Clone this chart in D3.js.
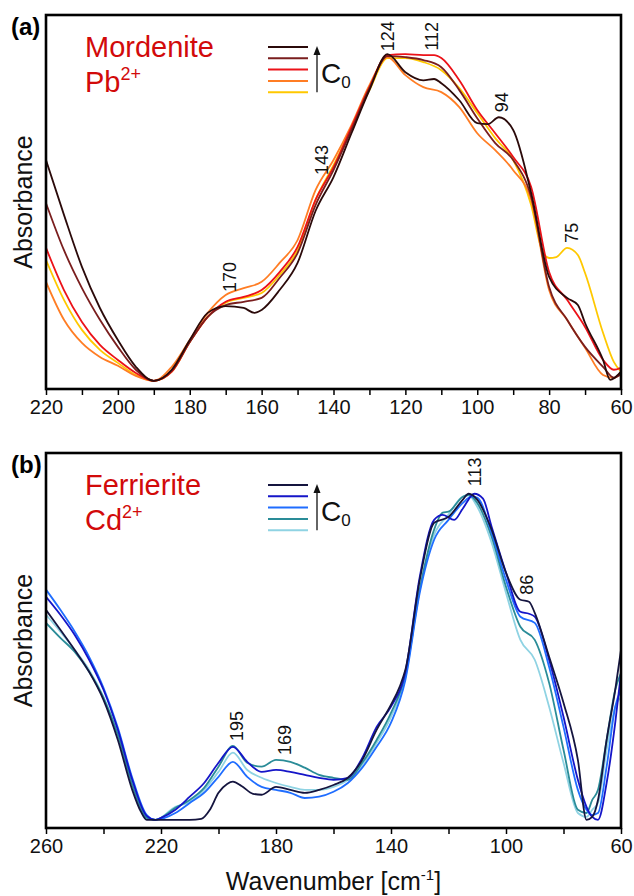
<!DOCTYPE html>
<html>
<head>
<meta charset="utf-8">
<script src="https://cdn.jsdelivr.net/npm/d3@7"></script>
<style>
  body { margin: 0; background: #fff; }
  svg { display: block; }
</style>
</head>
<body>
<div id="chart"></div>
<script>
// ---- data (wavenumber cm-1, absorbance a.u.) ----

// (a) Mordenite / Pb2+, darkest = highest C0
const mordColors = ["#2b0a0a", "#7a1e1e", "#ec1218", "#ff7d24", "#ffc800"];
const mordDarkest = [[220,.676],[215,.508],[210,.349],[205,.223],[200,.125],[195,.043],[190,0],[185,.034],[180,.125],[175,.208],[170,.229],[165,.223],[162,.208],[160,.217],[155,.278],[150,.361],[145,.52],[140,.624],[135,.758],[130,.89],[125,1],[120,.945],[115,.92],[112,.924],[110,.911],[105,.859],[100,.789],[97,.786],[94,.807],[90,.768],[85,.575],[80,.318],[75,.254],[72,.232],[70,.177],[65,.064],[63,.003],[60,.028]];
const mordDarkRed = [[220,.544],[215,.40],[210,.284],[205,.187],[200,.104],[195,.034],[190,0],[185,.031],[180,.119],[175,.196],[170,.232],[165,.242],[160,.254],[155,.315],[150,.391],[145,.538],[140,.645],[135,.768],[130,.896],[125,.994],[120,.991],[115,.982],[110,.96],[105,.89],[100,.804],[95,.728],[90,.676],[85,.563],[80,.287],[75,.187],[70,.104],[65,.043],[62,.01],[60,.02]];
const mordRed = [[220,.407],[215,.278],[210,.18],[205,.11],[200,.064],[195,.024],[190,0],[185,.028],[180,.119],[175,.196],[170,.242],[165,.257],[160,.278],[155,.333],[150,.41],[145,.554],[140,.654],[135,.777],[130,.899],[125,.997],[120,1],[115,.997],[112,.997],[110,.988],[105,.92],[100,.829],[95,.758],[90,.685],[85,.593],[80,.333],[75,.248],[70,.165],[65,.064],[62,.034],[60,.04]];
const mordOrange = [[220,.303],[215,.187],[210,.116],[205,.073],[200,.046],[195,.015],[190,0],[185,.043],[180,.125],[175,.208],[170,.263],[165,.284],[160,.303],[155,.361],[150,.431],[145,.584],[140,.676],[135,.783],[130,.905],[125,.991],[120,.936],[115,.899],[110,.884],[105,.838],[100,.758],[95,.706],[90,.645],[85,.554],[80,.278],[75,.187],[70,.101],[65,.018],[62,.009],[60,.028]];
const mordYellow = [[220,.37],[215,.248],[210,.156],[205,.095],[200,.055],[195,.018],[190,0],[185,.028],[180,.119],[175,.196],[170,.239],[165,.254],[160,.269],[155,.324],[150,.40],[145,.554],[140,.66],[135,.774],[130,.89],[125,.988],[120,.988],[115,.976],[110,.951],[105,.896],[100,.82],[95,.743],[90,.676],[85,.538],[82,.40],[80,.376],[78,.379],[75,.407],[72,.385],[70,.33],[65,.147],[62,.058],[60,.028]];
const mordSeries = [mordDarkest, mordDarkRed, mordRed, mordOrange, mordYellow];
const mordTicks = d3.range(220, 59, -10);
const mordPeaks = [["124",124.8,1.055],["112",112.6,1.055],["94",93.1,.853],["143",143.2,.676],["170",168.8,.318],["75",73.6,.453]];

// (b) Ferrierite / Cd2+
const ferrColors = ["#15153f", "#1515c8", "#1f6dff", "#2a8c98", "#8fd3e3"];
const ferrNavy = [[260,.644],[255,.583],[250,.521],[245,.454],[240,.368],[235,.245],[230,.092],[227,.025],[225,0],[220,0],[215,0],[210,0],[206,.003],[203,.031],[200,.083],[197,.11],[195,.117],[192,.104],[188,.08],[185,.077],[180,.101],[175,.092],[170,.083],[165,.092],[160,.107],[155,.129],[150,.184],[145,.276],[140,.353],[137,.408],[135,.46],[130,.736],[125,.911],[120,.929],[115,.982],[113,1],[110,.982],[105,.89],[100,.758],[95,.675],[92,.669],[90,.635],[85,.5],[80,.359],[75,.184],[72,0],[70,.009],[68,.061],[65,.245],[62,.399],[60,.521]];
const ferrBlue = [[260,.684],[255,.629],[250,.567],[245,.491],[240,.399],[235,.276],[230,.123],[225,.012],[222,0],[220,.006],[215,.031],[210,.071],[205,.113],[200,.175],[195,.224],[190,.178],[185,.147],[180,.153],[175,.147],[170,.138],[165,.129],[160,.123],[155,.129],[150,.19],[145,.285],[140,.347],[135,.454],[130,.745],[125,.92],[122,.935],[118,.92],[115,.955],[111,1],[108,.985],[105,.899],[100,.758],[95,.638],[92,.632],[90,.623],[85,.491],[80,.316],[75,.123],[72,.04],[70,.009],[68,0],[65,.113],[62,.298],[60,.451]];
const ferrBright = [[260,.706],[255,.644],[250,.577],[245,.5],[240,.405],[235,.282],[230,.129],[225,.015],[222,0],[215,.021],[210,.052],[205,.083],[200,.132],[195,.178],[190,.132],[185,.101],[180,.092],[175,.083],[170,.067],[165,.071],[160,.086],[155,.113],[150,.16],[145,.224],[140,.298],[135,.429],[130,.696],[125,.859],[120,.92],[115,.972],[112,.991],[110,.988],[105,.88],[100,.736],[95,.623],[90,.604],[85,.469],[80,.285],[75,.092],[72,.031],[70,.015],[68,.021],[65,.163],[62,.347],[60,.399]];
const ferrTeal = [[260,.604],[255,.558],[250,.515],[245,.454],[240,.374],[235,.261],[230,.107],[225,.006],[222,0],[215,.037],[210,.061],[205,.098],[200,.163],[195,.227],[190,.175],[185,.163],[180,.184],[175,.178],[170,.16],[165,.138],[160,.129],[155,.123],[150,.175],[145,.245],[140,.328],[135,.445],[130,.706],[125,.89],[122,.942],[120,.945],[115,.991],[113,.997],[110,.972],[105,.868],[100,.715],[95,.592],[90,.552],[85,.42],[80,.215],[75,.031],[72,.021],[70,.061],[68,.092],[65,.245],[62,.399],[60,.451]];
const ferrLight = [[260,.629],[255,.577],[250,.521],[245,.46],[240,.377],[235,.261],[230,.113],[225,.009],[222,0],[215,.04],[210,.055],[205,.092],[200,.147],[195,.206],[190,.153],[185,.129],[180,.113],[175,.101],[170,.092],[165,.092],[160,.101],[155,.123],[150,.169],[145,.236],[140,.316],[135,.436],[130,.706],[125,.874],[120,.936],[115,.991],[113,.994],[110,.96],[105,.85],[100,.696],[95,.552],[90,.491],[85,.347],[80,.175],[75,.021],[72,.009],[70,.031],[68,.052],[65,.215],[62,.347],[60,.377]];
const ferrSeries = [ferrNavy, ferrBlue, ferrBright, ferrTeal, ferrLight];
const ferrTicks = d3.range(260, 59, -20);
const ferrPeaks = [["113",110.8,1.067],["86",92.7,.721],["195",193.5,.288],["169",176.9,.245]];

// ---- layout ----
const W = 634, H = 896;
const FONT = "'Liberation Sans', Arial, Helvetica, sans-serif";
const left = 46, right = 621;

const svg = d3.select("#chart").append("svg")
  .attr("width", W).attr("height", H)
  .style("font-family", FONT);

function drawPanel(opt) {
  const x = d3.scaleLinear().domain(opt.xDomain).range([left, right]);
  const y = d3.scaleLinear().domain(opt.yDomain).range([opt.bottom, opt.top]);
  const g = svg.append("g");

  g.append("clipPath").attr("id", opt.id + "-clip")
    .append("rect")
    .attr("x", left).attr("y", opt.top)
    .attr("width", right - left).attr("height", opt.bottom - opt.top);

  const line = d3.line()
    .x(d => x(d[0]))
    .y(d => y(d[1]))
    .curve(d3.curveMonotoneX);

  // light/low concentration first so the dark ones sit on top
  g.append("g").attr("clip-path", `url(#${opt.id}-clip)`)
    .selectAll("path")
    .data(opt.series.map((s, i) => ({ s, c: opt.colors[i] })).reverse())
    .join("path")
    .attr("d", d => line(d.s))
    .attr("fill", "none")
    .attr("stroke", d => d.c)
    .attr("stroke-width", 1.8)
    .attr("stroke-linejoin", "round");

  // bottom axis, labels only on every other tick (counted from the left end)
  const start = opt.xDomain[0];
  const axis = g.append("g")
    .attr("transform", `translate(0,${opt.bottom})`)
    .call(d3.axisBottom(x)
      .tickValues(opt.ticks)
      .tickSize(6)
      .tickPadding(5)
      .tickFormat(d => ((start - d) % opt.labelEvery === 0 ? d : "")));
  axis.select(".domain").remove();
  axis.selectAll(".tick line").attr("stroke", "#000").attr("stroke-width", 1.5);
  axis.selectAll(".tick text")
    .attr("font-family", FONT)
    .attr("font-size", 20)
    .attr("fill", "#111");

  // frame
  g.append("rect")
    .attr("x", left).attr("y", opt.top)
    .attr("width", right - left).attr("height", opt.bottom - opt.top)
    .attr("fill", "none").attr("stroke", "#000").attr("stroke-width", 2.6);

  // peak labels
  g.selectAll("text.peak")
    .data(opt.peaks)
    .join("text")
    .attr("class", "peak")
    .attr("transform", d => `translate(${x(d[1])},${y(d[2])}) rotate(-90)`)
    .attr("text-anchor", "middle")
    .attr("dominant-baseline", "central")
    .attr("font-size", 18)
    .attr("fill", "#111")
    .text(d => d[0]);

  // panel letter
  g.append("text")
    .attr("x", 11).attr("y", opt.top + 20)
    .attr("font-size", 24).attr("font-weight", "bold")
    .text(opt.letter);

  // y title
  g.append("text")
    .attr("transform", `translate(32,${(opt.top + opt.bottom) / 2}) rotate(-90)`)
    .attr("text-anchor", "middle")
    .attr("font-size", 25)
    .attr("fill", "#111")
    .text("Absorbance");

  // sample name
  const nm = g.append("g").attr("fill", "#d20a0a");
  nm.append("text").attr("x", 85).attr("y", opt.top + 42)
    .attr("font-size", 29).text(opt.name);
  const ion = nm.append("text").attr("x", 85).attr("y", opt.top + 77)
    .attr("font-size", 29);
  ion.append("tspan").text(opt.ion);
  ion.append("tspan").attr("dy", -12).attr("font-size", 18).text("2+");

  // legend strokes + arrow
  const ly0 = opt.top + 32;
  g.selectAll("line.leg")
    .data(opt.colors)
    .join("line")
    .attr("class", "leg")
    .attr("x1", 268).attr("x2", 308)
    .attr("y1", (d, i) => ly0 + i * 11.3)
    .attr("y2", (d, i) => ly0 + i * 11.3)
    .attr("stroke", d => d).attr("stroke-width", 2);
  const ay1 = ly0 + 4 * 11.3, ay0 = ly0 - 1;
  g.append("line")
    .attr("x1", 317).attr("x2", 317)
    .attr("y1", ay1).attr("y2", ay0 + 6)
    .attr("stroke", "#111").attr("stroke-width", 1.3);
  g.append("path")
    .attr("d", `M317,${ay0} L313.5,${ay0 + 9} L320.5,${ay0 + 9} Z`)
    .attr("fill", "#111");
  const c0 = g.append("text").attr("x", 321).attr("y", ly0 + 36)
    .attr("font-size", 28).attr("fill", "#111");
  c0.append("tspan").text("C");
  c0.append("tspan").attr("dy", 5).attr("font-size", 17).text("0");
}

drawPanel({
  id: "a", letter: "(a)", name: "Mordenite", ion: "Pb",
  top: 15, bottom: 389,
  xDomain: [220, 60], yDomain: [-0.025, 1.12],
  ticks: mordTicks, labelEvery: 20,
  series: mordSeries, colors: mordColors, peaks: mordPeaks
});

drawPanel({
  id: "b", letter: "(b)", name: "Ferrierite", ion: "Cd",
  top: 453, bottom: 828,
  xDomain: [260, 60], yDomain: [-0.025, 1.125],
  ticks: ferrTicks, labelEvery: 40,
  series: ferrSeries, colors: ferrColors, peaks: ferrPeaks
});

// x title
const xt = svg.append("text")
  .attr("x", (left + right) / 2).attr("y", 890)
  .attr("text-anchor", "middle")
  .attr("font-size", 25).attr("fill", "#111");
xt.append("tspan").text("Wavenumber [cm");
xt.append("tspan").attr("dy", -10).attr("font-size", 15).text("-1");
xt.append("tspan").attr("dy", 10).text("]");
</script>
</body>
</html>
